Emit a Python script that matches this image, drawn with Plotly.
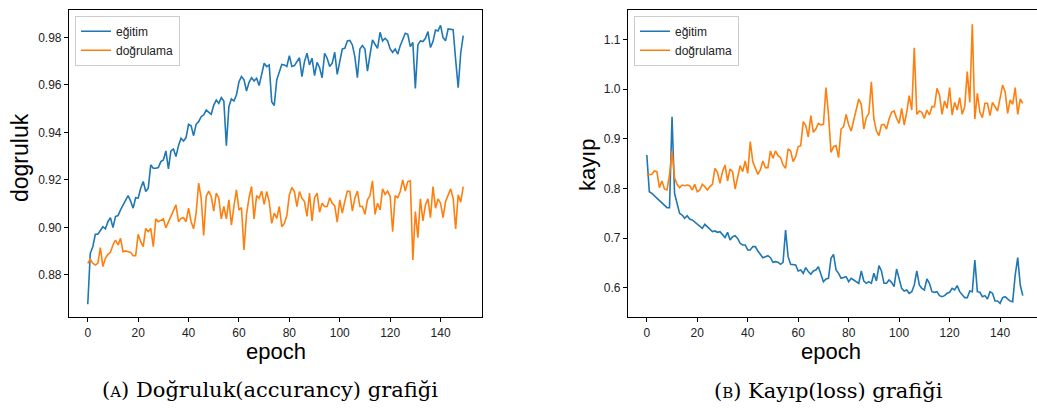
import plotly.graph_objects as go

epochs = list(range(150))

acc_train = [
    0.8677, 0.8891, 0.8919, 0.8971, 0.8971, 0.8985, 0.9003, 0.8994, 0.9024, 0.9041,
    0.8999, 0.9046, 0.9050, 0.9074, 0.9095, 0.9109, 0.9134, 0.9111, 0.9081, 0.9125,
    0.9123, 0.9165, 0.9193, 0.9151, 0.9165, 0.9263, 0.9249, 0.9249, 0.9252, 0.9277,
    0.9284, 0.9322, 0.9246, 0.9322, 0.9330, 0.9298, 0.9344, 0.9375, 0.9364, 0.9378,
    0.9434, 0.9428, 0.9386, 0.9434, 0.9445, 0.9466, 0.9473, 0.9494, 0.9484, 0.9476,
    0.9515, 0.9536, 0.9522, 0.9546, 0.9532, 0.9344, 0.9508, 0.9541, 0.9532, 0.9557,
    0.9613, 0.9635, 0.9621, 0.9574, 0.9611, 0.9630, 0.9616, 0.9628, 0.9597, 0.9642,
    0.9691, 0.9677, 0.9684, 0.9529, 0.9513, 0.9621, 0.9656, 0.9686, 0.9684, 0.9677,
    0.9723, 0.9677, 0.9681, 0.9698, 0.9714, 0.9635, 0.9698, 0.9733, 0.9684, 0.9712,
    0.9639, 0.9695, 0.9672, 0.9630, 0.9733, 0.9712, 0.9677, 0.9691, 0.9737, 0.9644,
    0.9695, 0.9751, 0.9754, 0.9785, 0.9787, 0.9768, 0.9719, 0.9630, 0.9751, 0.9765,
    0.9751, 0.9658, 0.9726, 0.9789, 0.9771, 0.9754, 0.9821, 0.9785, 0.9796, 0.9785,
    0.9751, 0.9737, 0.9751, 0.9729, 0.9765, 0.9793, 0.9817, 0.9813, 0.9761, 0.9779,
    0.9585, 0.9768, 0.9785, 0.9782, 0.9796, 0.9824, 0.9757, 0.9782, 0.9831, 0.9827,
    0.9850, 0.9799, 0.9785, 0.9835, 0.9835, 0.9832, 0.9705, 0.9588, 0.9733, 0.9807,
]

acc_val = [
    0.8849, 0.8867, 0.8849, 0.8842, 0.8849, 0.8915, 0.8835, 0.8870, 0.8887, 0.8895,
    0.8926, 0.8947, 0.8926, 0.8954, 0.8898, 0.8901, 0.8898, 0.8895, 0.8881, 0.8881,
    0.8971, 0.8940, 0.8919, 0.8996, 0.8982, 0.8996, 0.8919, 0.9036, 0.9024, 0.9031,
    0.9036, 0.8999, 0.9024, 0.9052, 0.9074, 0.9095, 0.9024, 0.9038, 0.9041, 0.9024,
    0.9081, 0.9024, 0.8994, 0.9060, 0.9186, 0.9123, 0.8966, 0.9130, 0.9153, 0.9130,
    0.9069, 0.9144, 0.9123, 0.9036, 0.9088, 0.9036, 0.9116, 0.9010, 0.9088, 0.9158,
    0.9074, 0.9083, 0.8905, 0.9055, 0.9125, 0.9172, 0.9036, 0.9134, 0.9123, 0.9153,
    0.9097, 0.9151, 0.9109, 0.9017, 0.9060, 0.9038, 0.9088, 0.9003, 0.9017, 0.9050,
    0.9137, 0.9168, 0.9151, 0.9088, 0.9151, 0.9123, 0.9109, 0.9046, 0.9144, 0.9027,
    0.9125, 0.9144, 0.9064, 0.9102, 0.9088, 0.9088, 0.9125, 0.9102, 0.9092, 0.9022,
    0.9116, 0.9060, 0.9109, 0.9153, 0.9151, 0.9069, 0.9123, 0.9153, 0.9088, 0.9088,
    0.9055, 0.9116, 0.9134, 0.9196, 0.9055, 0.9102, 0.9074, 0.9162, 0.9139, 0.9153,
    0.9130, 0.8982, 0.9134, 0.9125, 0.9151, 0.9200, 0.9153, 0.9193, 0.9196, 0.8863,
    0.9067, 0.8957, 0.9120, 0.9027, 0.9095, 0.9120, 0.9041, 0.9172, 0.9081, 0.9120,
    0.9102, 0.9041, 0.9109, 0.9134, 0.9162, 0.9123, 0.8994, 0.9137, 0.9106, 0.9172,
]

loss_train = [
    0.8672, 0.7934, 0.7901, 0.7854, 0.7814, 0.7767, 0.7700, 0.7666, 0.7612, 0.7612,
    0.9443, 0.7901, 0.7666, 0.7498, 0.7465, 0.7398, 0.7451, 0.7384, 0.7364, 0.7317,
    0.7277, 0.7230, 0.7196, 0.7277, 0.7230, 0.7183, 0.7129, 0.7143, 0.7116, 0.7129,
    0.7062, 0.7009, 0.7116, 0.6962, 0.7029, 0.7049, 0.6995, 0.6895, 0.6861, 0.6861,
    0.6761, 0.6761, 0.6828, 0.6828, 0.6740, 0.6673, 0.6606, 0.6626, 0.6646, 0.6606,
    0.6512, 0.6526, 0.6512, 0.6472, 0.6512, 0.7163, 0.6626, 0.6472, 0.6472, 0.6459,
    0.6338, 0.6358, 0.6291, 0.6405, 0.6325, 0.6271, 0.6338, 0.6358, 0.6425, 0.6271,
    0.6123, 0.6177, 0.6190, 0.6593, 0.6673, 0.6358, 0.6291, 0.6190, 0.6204, 0.6224,
    0.6123, 0.6190, 0.6157, 0.6123, 0.6090, 0.6338, 0.6137, 0.6090, 0.6123, 0.6090,
    0.6291, 0.6137, 0.6445, 0.6338, 0.6090, 0.6090, 0.6157, 0.6110, 0.6023, 0.6378,
    0.6190, 0.5989, 0.5936, 0.5956, 0.5889, 0.5922, 0.6056, 0.6338, 0.6056, 0.5989,
    0.5956, 0.6177, 0.6090, 0.5922, 0.5909, 0.5922, 0.5842, 0.5822, 0.5842, 0.5889,
    0.5909, 0.5989, 0.5956, 0.6043, 0.5922, 0.5869, 0.5801, 0.5801, 0.5936, 0.5922,
    0.6559, 0.5922, 0.5909, 0.5822, 0.5842, 0.5775, 0.5922, 0.5889, 0.5734, 0.5734,
    0.5687, 0.5801, 0.5822, 0.5775, 0.5734, 0.5721, 0.6257, 0.6606, 0.6056, 0.5842,
]

loss_val = [
    0.8270, 0.8283, 0.8283, 0.8350, 0.8337, 0.8015, 0.8149, 0.7988, 0.7968, 0.8270,
    0.8753, 0.8216, 0.8082, 0.8015, 0.8068, 0.8055, 0.8068, 0.8055, 0.7968, 0.8082,
    0.7934, 0.7968, 0.8082, 0.8035, 0.7968, 0.8035, 0.8082, 0.8404, 0.8323, 0.8102,
    0.8337, 0.8471, 0.8149, 0.8390, 0.8337, 0.7988, 0.8236, 0.8457, 0.8337, 0.8551,
    0.8303, 0.8940, 0.8538, 0.8390, 0.8283, 0.8370, 0.8551, 0.8417, 0.8417, 0.8753,
    0.8605, 0.8753, 0.8659, 0.8618, 0.8471, 0.8404, 0.8793, 0.8753, 0.8538, 0.8638,
    0.8840, 0.8860, 0.9343, 0.9262, 0.9034, 0.9463, 0.9128, 0.9195, 0.9309, 0.9276,
    0.9289, 1.0027, 0.9490, 0.8726, 0.8840, 0.8860, 0.8618, 0.9195, 0.9242, 0.9490,
    0.9276, 0.9155, 0.9356, 0.9577, 0.9799, 0.9692, 0.9195, 0.9423, 0.9510, 1.0147,
    0.9396, 0.9155, 0.9061, 0.9276, 0.9289, 0.9195, 0.9396, 0.9530, 0.9557, 0.9410,
    0.9309, 0.9611, 0.9276, 0.9530, 0.9866, 0.9577, 1.0832, 0.9490, 0.9557, 0.9530,
    0.9410, 0.9577, 0.9477, 0.9645, 0.9645, 1.0013, 0.9879, 0.9490, 0.9759, 0.9611,
    1.0027, 0.9477, 0.9732, 0.9577, 0.9826, 0.9490, 0.9645, 1.0349, 0.9732, 1.1302,
    0.9396, 0.9913, 0.9530, 0.9423, 0.9712, 0.9712, 0.9463, 0.9732, 0.9645, 0.9557,
    0.9812, 1.0080, 0.9946, 0.9510, 0.9779, 0.9692, 1.0027, 0.9490, 0.9799, 0.9712,
]

train_name = "eğitim"
val_name = "doğrulama"
x_ticks = [0, 20, 40, 60, 80, 100, 120, 140]
acc_ticks = [0.88, 0.90, 0.92, 0.94, 0.96, 0.98]
loss_ticks = [0.6, 0.7, 0.8, 0.9, 1.0, 1.1]

BLUE = "#1f77b4"
ORANGE = "#ff7f0e"
W, H = 1037, 411
SANS = "Liberation Sans, Arial, sans-serif"
SERIF = "DejaVu Serif, serif"

fig = go.Figure()
fig.add_trace(go.Scatter(x=epochs, y=acc_train, mode="lines", name=train_name,
                         line=dict(color=BLUE, width=1.6), xaxis="x", yaxis="y", legend="legend"))
fig.add_trace(go.Scatter(x=epochs, y=acc_val, mode="lines", name=val_name,
                         line=dict(color=ORANGE, width=1.6), xaxis="x", yaxis="y", legend="legend"))
fig.add_trace(go.Scatter(x=epochs, y=loss_train, mode="lines", name=train_name,
                         line=dict(color=BLUE, width=1.6), xaxis="x2", yaxis="y2", legend="legend2"))
fig.add_trace(go.Scatter(x=epochs, y=loss_val, mode="lines", name=val_name,
                         line=dict(color=ORANGE, width=1.6), xaxis="x2", yaxis="y2", legend="legend2"))

ydom = [1 - 317 / H, 1 - 10 / H]
axis_common = dict(showgrid=False, zeroline=False, showline=True, linecolor="black", linewidth=1.2,
                   ticks="outside", ticklen=4, tickwidth=1, tickcolor="black",
                   tickfont=dict(family=SANS, size=12, color="#222"))

legend_common = dict(xanchor="left", yanchor="top", bgcolor="white", bordercolor="#cccccc",
                     borderwidth=1, font=dict(family=SANS, size=12, color="#222"),
                     itemwidth=30, tracegroupgap=0)

fig.update_layout(
    width=W, height=H,
    margin=dict(l=0, r=0, t=0, b=0, pad=0),
    paper_bgcolor="white", plot_bgcolor="white",
    xaxis=dict(domain=[69 / W, 482 / W], range=[-7.45, 156.45], tickvals=x_ticks,
               mirror=True, anchor="y", **axis_common),
    yaxis=dict(domain=ydom, range=[0.8623, 0.9915], tickvals=acc_ticks, tickformat=".2f",
               mirror=True, anchor="x", **axis_common),
    xaxis2=dict(domain=[628 / W, 1.0], range=[-7.45, (W - 646.7) / 2.524], tickvals=x_ticks,
                mirror=True, anchor="y2", **axis_common),
    yaxis2=dict(domain=ydom, range=[0.5412, 1.159], tickvals=loss_ticks, tickformat=".1f",
                mirror=False, anchor="x2", **axis_common),
    legend=dict(x=75 / W, y=1 - 15.7 / H, **legend_common),
    legend2=dict(x=634 / W, y=1 - 15.7 / H, **legend_common),
    showlegend=True,
)

annotations = [
    dict(text="epoch", x=275.5 / W, y=1 - 351.5 / H, xref="paper", yref="paper",
         showarrow=False, xanchor="center", yanchor="middle",
         font=dict(family=SANS, size=22, color="black")),
    dict(text="epoch", x=831 / W, y=1 - 351.5 / H, xref="paper", yref="paper",
         showarrow=False, xanchor="center", yanchor="middle",
         font=dict(family=SANS, size=22, color="black")),
    dict(text="dogruluk", x=20 / W, y=1 - 158 / H, xref="paper", yref="paper", textangle=-90,
         showarrow=False, xanchor="center", yanchor="middle",
         font=dict(family=SANS, size=23, color="black")),
    dict(text="kayıp", x=587 / W, y=1 - 165 / H, xref="paper", yref="paper", textangle=-90,
         showarrow=False, xanchor="center", yanchor="middle",
         font=dict(family=SANS, size=22, color="black")),
    dict(text="(<span style='font-size:15px'>A</span>) Doğruluk(accurancy) grafiği",
         x=269.5 / W, y=1 - 390 / H, xref="paper", yref="paper",
         showarrow=False, xanchor="center", yanchor="middle",
         font=dict(family=SERIF, size=21, color="black")),
    dict(text="(<span style='font-size:15px'>B</span>) Kayıp(loss) grafiği",
         x=828 / W, y=1 - 391 / H, xref="paper", yref="paper",
         showarrow=False, xanchor="center", yanchor="middle",
         font=dict(family=SERIF, size=21, color="black")),
]
fig.update_layout(annotations=annotations)

fig.write_html("out.html")
